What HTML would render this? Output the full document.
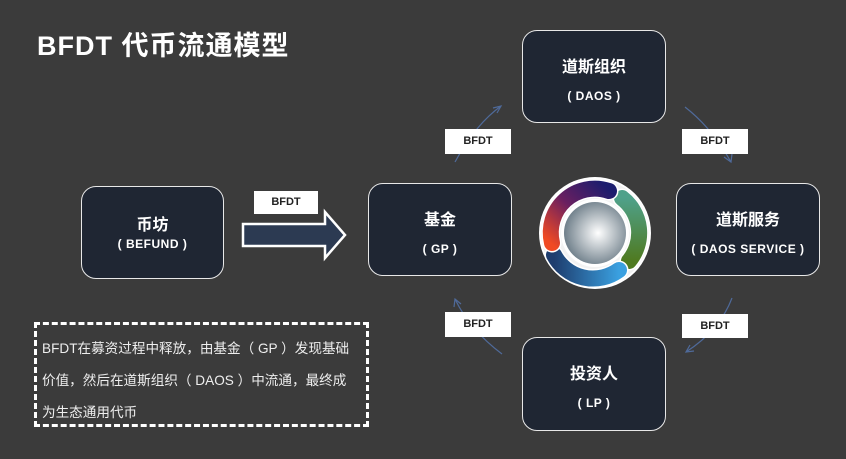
<!DOCTYPE html>
<html><head><meta charset="utf-8"><style>
body{margin:0;width:846px;height:459px;background:#3b3b3b;overflow:hidden;position:relative;font-family:"Liberation Sans","Noto Sans CJK SC",sans-serif;color:#fff}
.t{position:absolute;left:37px;top:24px;font-size:27px;font-weight:bold;white-space:nowrap;letter-spacing:1px}
.b{position:absolute;background:#1f2633;border:1.5px solid #e8e8e8;border-radius:15px;box-sizing:border-box;text-align:center}
.b .a{font-size:16px;font-weight:bold}
.b .c{font-size:12px;font-weight:bold;letter-spacing:0.5px}
.l{position:absolute;background:#fff;color:#222;font-size:11px;font-weight:bold;text-align:center;line-height:24px;height:24px}
.d{position:absolute;left:34px;top:322px;width:335px;height:105px;box-sizing:border-box;border:3px dashed #fff;font-size:13.6px;color:#eee;padding:8px 0 0 5px;line-height:32px;white-space:nowrap}
</style></head><body>
<div class="t">BFDT 代币流通模型</div>

<div class="b" style="left:81px;top:186px;width:143px;height:93px"><div class="a" style="margin-top:24px">币坊</div><div class="c" style="margin-top:2px">( BEFUND )</div></div>
<div class="b" style="left:368px;top:183px;width:144px;height:93px"><div class="a" style="margin-top:22px">基金</div><div class="c" style="margin-top:12px">( GP )</div></div>
<div class="b" style="left:522px;top:30px;width:144px;height:93px"><div class="a" style="margin-top:22px">道斯组织</div><div class="c" style="margin-top:12px">( DAOS )</div></div>
<div class="b" style="left:676px;top:183px;width:144px;height:93px"><div class="a" style="margin-top:22px">道斯服务</div><div class="c" style="margin-top:12px">( DAOS SERVICE )</div></div>
<div class="b" style="left:522px;top:337px;width:144px;height:94px"><div class="a" style="margin-top:22px">投资人</div><div class="c" style="margin-top:12px">( LP )</div></div>

<svg style="position:absolute;left:0;top:0" width="846" height="459">
<defs>
<linearGradient id="g1" x1="0" y1="1" x2="1" y2="0"><stop offset="0" stop-color="#f04a23"/><stop offset="0.5" stop-color="#6a1f60"/><stop offset="1" stop-color="#1c1d6e"/></linearGradient>
<linearGradient id="g2" x1="0" y1="0" x2="0" y2="1"><stop offset="0" stop-color="#4fa18a"/><stop offset="1" stop-color="#4f7a20"/></linearGradient>
<linearGradient id="g3" x1="0" y1="0" x2="1" y2="0"><stop offset="0" stop-color="#1e3d6e"/><stop offset="1" stop-color="#3aa0e0"/></linearGradient>
<radialGradient id="s" cx="0.55" cy="0.5" r="0.55"><stop offset="0" stop-color="#fff"/><stop offset="1" stop-color="#6f7f8a"/></radialGradient>
</defs>
<polygon points="243,224 325,224 325,212 345,235 325,258 325,246 243,246" fill="#2c3a52" stroke="#fff" stroke-width="2.5"/>
<circle cx="595" cy="233" r="56" fill="#fff"/>
<circle cx="595" cy="233" r="54" fill="#f2f2f2"/>
<path d="M 622 198 A 44 44 0 0 1 629 261" fill="none" stroke="#fff" stroke-width="19" stroke-linecap="round"/>
<path d="M 622 198 A 44 44 0 0 1 629 261" fill="none" stroke="url(#g2)" stroke-width="16" stroke-linecap="round"/>
<path d="M 619 270 A 44 44 0 0 1 554 255" fill="none" stroke="#fff" stroke-width="19" stroke-linecap="round"/>
<path d="M 619 270 A 44 44 0 0 1 554 255" fill="none" stroke="url(#g3)" stroke-width="16" stroke-linecap="round"/>
<path d="M 552 243 A 44 44 0 0 1 609 191" fill="none" stroke="#fff" stroke-width="19" stroke-linecap="round"/>
<path d="M 552 243 A 44 44 0 0 1 609 191" fill="none" stroke="url(#g1)" stroke-width="16" stroke-linecap="round"/>
<circle cx="595" cy="233" r="34" fill="#fff"/>
<circle cx="595" cy="233" r="31" fill="url(#s)"/>
<g fill="none" stroke="#4f6a9a" stroke-width="1.2">
<path d="M 455 162 Q 475 125 501 106"/><path d="M 493 108 L 501 106 L 497 113"/>
<path d="M 685 107 Q 712 128 731 162"/><path d="M 724 157 L 731 162 L 732 154"/>
<path d="M 732 298 Q 720 330 686 352"/><path d="M 690 345 L 686 352 L 694 351"/>
<path d="M 502 354 Q 470 330 455 299"/><path d="M 454 307 L 455 299 L 461 304"/>
</g>
</svg>

<div class="l" style="left:254px;top:191px;width:64px;height:23px;line-height:23px">BFDT</div>
<div class="l" style="left:445px;top:129px;width:66px;height:25px;line-height:25px">BFDT</div>
<div class="l" style="left:682px;top:129px;width:66px;height:25px;line-height:25px">BFDT</div>
<div class="l" style="left:445px;top:312px;width:66px;height:25px;line-height:25px">BFDT</div>
<div class="l" style="left:682px;top:314px;width:66px;height:24px">BFDT</div>

<div class="d">BFDT在募资过程中释放，由基金（ GP ）发现基础<br>价值，然后在道斯组织（ DAOS ）中流通，最终成<br>为生态通用代币</div>
</body></html>
